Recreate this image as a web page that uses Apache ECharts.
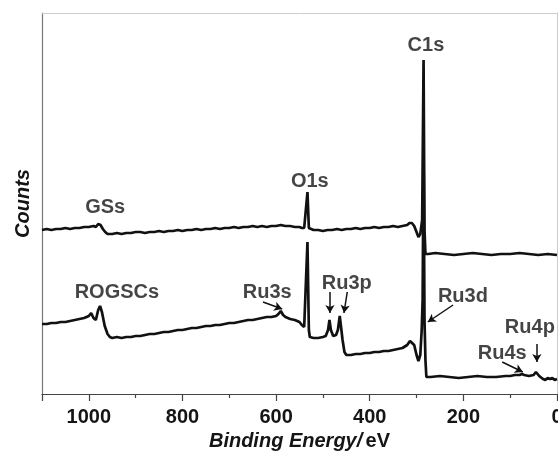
<!DOCTYPE html>
<html>
<head>
<meta charset="utf-8">
<script src="https://cdn.jsdelivr.net/npm/echarts@6/dist/echarts.min.js"></script>
<style>html,body{margin:0;padding:0;background:#fff;}#c{width:558px;height:455px;}</style>
</head>
<body>
<div id="c"></div>
<script>
// Binding energy ticks
const xTicks = [0, 200, 400, 600, 800, 1000];

// GSs spectrum (binding energy eV, counts a.u.)
const gsEnergy = [1100,1090,1080,1070,1060,1050,1040,1030,1020,1010,1000,990,985,980,975,970,965,960,950,940,930,920,910,900,
 890,880,870,860,850,840,830,820,810,800,790,780,770,760,750,740,730,720,710,700,690,680,670,660,650,640,630,620,610,600,
 590,580,570,560,550,545,540,536,533,530,527,520,510,500,490,480,470,460,450,440,430,420,410,400,390,380,370,360,350,340,330,320,
 315,310,305,300,296,292,288,285,283,281,275,260,240,220,200,180,160,140,120,100,80,60,40,20,0];
const gsCounts = [164,165,164,165,165,166,165,166,166,167,167,168,167,170,169,165,162,160,160,161,160,161,161,162,
 162,161,162,162,163,162,163,163,164,163,164,164,165,164,165,165,166,165,166,166,167,166,167,167,168,167,168,167,168,168,
 169,168,168,167,167,166,166,167,202,166,164,164,164,163,164,164,165,164,165,165,166,165,166,166,167,166,167,167,168,167,168,169,
 171,171,168,162,157,160,174,334,164,140,140,141,140,139,140,141,140,139,140,140,141,140,139,140,139];

// ROGSCs spectrum (binding energy eV, counts a.u.)
const roEnergy = [1100,1090,1080,1070,1060,1050,1040,1030,1020,1010,1000,995,990,985,980,976,972,966,960,955,950,940,930,920,910,900,
 890,880,870,860,850,840,830,820,810,800,790,780,770,760,750,740,730,720,710,700,690,680,670,660,650,640,630,620,610,600,
 595,590,585,580,570,560,550,545,540,536,533,530,528,520,510,500,494,489,486,483,478,472,468,464,461,458,454,450,440,430,420,410,400,
 390,380,370,360,350,340,330,320,314,310,305,300,296,292,289,287,285,283,281,279,270,250,230,210,190,170,150,130,110,100,90,80,75,70,60,
 50,45,42,38,30,25,20,15,10,5,0];
const roCounts = [70,70,71,71,72,72,73,74,75,76,78,81,76,74,84,88,82,68,60,57,56,57,56,57,57,58,
 58,59,60,60,61,62,62,63,64,64,65,66,66,67,68,68,69,69,70,71,71,72,73,74,74,75,76,77,77,78,
 80,83,79,77,75,74,72,69,67,68,152,64,57,56,56,57,58,64,74,64,58,59,64,78,76,54,42,39,39,40,40,41,41,
 42,42,43,43,44,45,46,49,53,54,49,39,33,39,64,94,244,74,34,17,17,18,17,16,17,18,17,17,18,18,19,19,20,19,18,
 19,22,23,18,15,14,16,15,16,14,15];

// Peak labels: [binding energy, counts, text]
const peakLabels = [
 [965, 187, 'GSs'], [280, 349, 'C1s'], [528, 213, 'O1s'], [940, 102, 'ROGSCs'],
 [619, 102, 'Ru3s'], [449, 111, 'Ru3p'], [201, 98, 'Ru3d'], [58, 67, 'Ru4p'], [117, 41, 'Ru4s']
];
// Arrows: [fromEnergy, fromCounts, toEnergy, toCounts]
const arrows = [
 [628, 92, 587, 85], [485, 102, 485, 81], [448, 102, 455, 81],
 [222, 89, 276, 72], [43, 50, 43, 32], [117, 32, 73, 22]
];

const FONT = "'Liberation Sans', Arial, sans-serif";
const TXT = '#151515';
const pair = (xs, ys) => xs.map((x, i) => [x, ys[i]]);

const chart = echarts.init(document.getElementById('c'), null, {renderer: 'canvas'});
chart.setOption({
  animation: false,
  backgroundColor: '#fff',
  grid: {left: 42, right: 1, top: 13, bottom: 61, containLabel: false, outerBoundsMode: 'none'},
  xAxis: [{
    type: 'value', inverse: true, min: 0, max: 1100, interval: 200,
    axisLine: {show: true, onZero: false, lineStyle: {color: '#444', width: 1.2}},
    axisTick: {show: true, length: 7, lineStyle: {color: '#444', width: 1.2}},
    minorTick: {show: true, splitNumber: 2, length: 4, lineStyle: {color: '#444', width: 1.2}},
    splitLine: {show: false},
    axisLabel: {
      margin: 13, color: TXT, fontFamily: FONT, fontWeight: 'bold', fontSize: 20,
      formatter: v => (xTicks.indexOf(v) >= 0 ? String(v) : '')
    },
    name: '{a|Binding Energy/} {b|eV}', nameLocation: 'middle', nameGap: 36,
    nameTextStyle: {rich: {
      a: {fontFamily: FONT, fontWeight: 'bold', fontStyle: 'italic', fontSize: 20, color: TXT},
      b: {fontFamily: FONT, fontWeight: 'bold', fontSize: 20, color: TXT}
    }}
  }, {
    type: 'value', position: 'top', inverse: true, min: 0, max: 1100,
    axisLine: {show: true, onZero: false, lineStyle: {color: '#ccc', width: 1}},
    axisTick: {show: false}, axisLabel: {show: false}, splitLine: {show: false}
  }],
  yAxis: [{
    type: 'value', min: 0, max: 381, position: 'left',
    axisLine: {show: true, onZero: false, lineStyle: {color: '#777', width: 1.2}},
    axisTick: {show: false}, axisLabel: {show: false}, splitLine: {show: false},
    name: 'Counts', nameLocation: 'middle', nameGap: 9, nameRotate: 90,
    nameTextStyle: {fontFamily: FONT, fontWeight: 'bold', fontStyle: 'italic', fontSize: 20, color: TXT}
  }, {
    type: 'value', position: 'right', min: 0, max: 381,
    axisLine: {show: true, onZero: false, lineStyle: {color: '#ccc', width: 1}},
    axisTick: {show: false}, axisLabel: {show: false}, splitLine: {show: false}
  }],
  series: [{
    name: 'GSs', type: 'line', data: pair(gsEnergy, gsCounts), showSymbol: false, symbol: 'none',
    lineStyle: {color: '#111', width: 2.7}, z: 3
  }, {
    name: 'ROGSCs', type: 'line', data: pair(roEnergy, roCounts), showSymbol: false, symbol: 'none',
    lineStyle: {color: '#111', width: 2.7}, z: 3,
    markLine: {
      silent: true, animation: false, symbol: ['none', 'arrow'], symbolSize: [7, 8],
      label: {show: false},
      lineStyle: {color: '#111', width: 1.5, type: 'solid'},
      data: arrows.map(a => [{coord: [a[0], a[1]]}, {coord: [a[2], a[3]]}])
    }
  }, {
    name: 'labels', type: 'scatter', symbolSize: 0, data: peakLabels, silent: true, z: 5,
    label: {
      show: true, position: 'inside', formatter: p => p.value[2],
      fontFamily: FONT, fontWeight: 'bold', fontSize: 20, color: TXT
    }
  }]
});
</script>
</body>
</html>
